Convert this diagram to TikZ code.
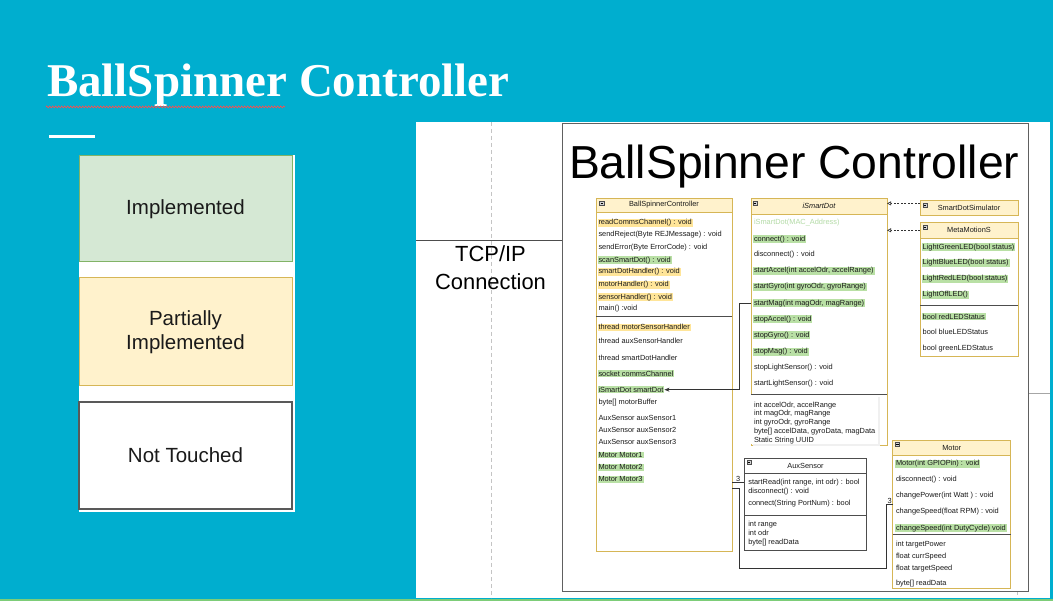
\documentclass[tikz,border=0pt]{standalone}
\usepackage{fontspec}
\setmainfont{Liberation Sans}
\newfontfamily\serifbold{Liberation Serif}
\usetikzlibrary{arrows.meta,decorations.pathmorphing}
\definecolor{teal0}{RGB}{0,174,207}
\definecolor{hdrfill}{HTML}{FFF2CC}
\definecolor{hdrdraw}{HTML}{D6B656}
\definecolor{hly}{HTML}{FFE599}
\definecolor{hlg}{HTML}{B9E0A5}
\definecolor{gfill}{HTML}{D5E8D4}
\definecolor{gdraw}{HTML}{82B366}
\definecolor{txt}{HTML}{1A1A1A}
\definecolor{pale}{HTML}{B3DBA6}
\definecolor{sepc}{HTML}{4D4D4D}
\definecolor{connc}{HTML}{333333}
\definecolor{dashc}{HTML}{C4C4C4}
\definecolor{bottomg}{RGB}{125,205,120}
\newcommand\myuml{\fontsize{7.4}{8.7}\selectfont}
\begin{document}
\begin{tikzpicture}[x=1pt,y=-1pt,
  every node/.style={inner sep=0pt, outer sep=0pt},
  hdr/.style={draw=hdrdraw, fill=hdrfill, line width=0.8pt, anchor=north west, font=\myuml, text=txt},
  body/.style={draw=hdrdraw, fill=white, line width=0.8pt, anchor=north west},
  hdrd/.style={draw=sepc, fill=white, line width=0.8pt, anchor=north west, font=\myuml, text=txt},
  bodyd/.style={draw=sepc, fill=white, line width=0.8pt, anchor=north west},
  row/.style={anchor=west, inner xsep=1pt, inner ysep=0.6pt, font=\myuml, text=txt},
  hy/.style={row, fill=hly},
  hg/.style={row, fill=hlg},
  sepline/.style={draw=sepc, line width=0.8pt},
  conn/.style={draw=connc, line width=0.7pt},
  real/.style={draw=connc, line width=0.6pt, dash pattern=on 2pt off 1.5pt, -{Triangle[open, length=4pt, width=4pt]}},
  legendbox/.style={minimum width=213, minimum height=106, line width=1pt, font=\fontsize{20.5}{24}\selectfont, text=txt, align=center},
  mini/.pic={\draw[fill=gray!35, draw=gray!60!black, line width=0.3pt] (0,0) rectangle (4.5,4); \draw[line width=0.4pt] (1,2) -- (3.5,2);}
]
\useasboundingbox (0,0) rectangle (1053,601);
\fill[teal0] (0,0) rectangle (1053,601);
\fill[bottomg] (0,599) rectangle (1053,601);

% slide title
\node[anchor=base west, text=white, font=\serifbold\bfseries\fontsize{47}{50}\selectfont] (title) at (47,97) {BallSpinner Controller};
\draw[red!70!white, line width=0.6pt, decorate, decoration={zigzag, amplitude=1pt, segment length=3pt}] (46,107) -- (285,107);
\draw[white, line width=3pt] (49,137) -- (95,137);

% legend
\fill[white] (79,155) rectangle (295,512);
\node[legendbox, fill=gfill, draw=gdraw] (limp) at (185.5,209) {Implemented};
\node[legendbox, fill=hdrfill, draw=hdrdraw, minimum height=108] (lpart) at (185.5,332) {Partially\\Implemented};
\node[legendbox, fill=white, draw=gray!70!black, line width=1.4pt, minimum height=107] (lnot) at (185.5,455.5) {Not Touched};

% right panel
\fill[white] (416,122) rectangle (1050,598);
\draw[dashc, line width=0.7pt, dash pattern=on 4pt off 3pt] (491,122) -- (491,598);
\draw[dashc, line width=0.7pt, dash pattern=on 4pt off 3pt] (1017,591) -- (1017,598);
\draw[sepc, line width=0.9pt] (416,240.5) -- (562,240.5);
\draw[gray!70, line width=0.9pt] (1028,393.5) -- (1050,393.5);
\node[font=\fontsize{21.9}{28.3}\selectfont, align=center, text=black] (tcp) at (490.5,268) {TCP/IP\\Connection};
\node[draw=gray!75!black, fill=white, line width=0.9pt, minimum width=466, minimum height=468, anchor=north west] (page) at (562,123) {};
\node[anchor=base west, font=\fontsize{46.3}{50}\selectfont, text=black] (bigtitle) at (569,178.5) {BallSpinner Controller};

% BallSpinnerController
\node[hdr, minimum width=136, minimum height=14] (bsc-h) at (596,198) {BallSpinnerController};
\node[body, minimum width=136, minimum height=339] (bsc) at (596,212) {};
\pic at (599.5,201) {mini};
\draw[sepline] (bsc.west |- 0,316) -- (bsc.east |- 0,316);
\node[hy] (bsc-m1) at (597.5,222.7) {readCommsChannel() : void};
\node[row] (bsc-m2) at (597.5,234.7) {sendReject(Byte REJMessage) : void};
\node[row] (bsc-m3) at (597.5,247.7) {sendError(Byte ErrorCode) : void};
\node[hg] (bsc-m4) at (597.5,260.3) {scanSmartDot() : void};
\node[hy] (bsc-m5) at (597.5,272) {smartDotHandler() : void};
\node[hy] (bsc-m6) at (597.5,285) {motorHandler() : void};
\node[hy] (bsc-m7) at (597.5,297.3) {sensorHandler() : void};
\node[row] (bsc-m8) at (597.5,309) {main() :void};
\node[hy] (bsc-a1) at (597.5,327.3) {thread motorSensorHandler};
\node[row] (bsc-a2) at (597.5,341) {thread auxSensorHandler};
\node[row] (bsc-a3) at (597.5,357.7) {thread smartDotHandler};
\node[hg] (bsc-a4) at (597.5,373.7) {socket commsChannel};
\node[hg] (bsc-a5) at (597.5,389.7) {iSmartDot smartDot};
\node[row] (bsc-a6) at (597.5,402.3) {byte[] motorBuffer};
\node[row] (bsc-a7) at (597.5,418.3) {AuxSensor auxSensor1};
\node[row] (bsc-a8) at (597.5,430.3) {AuxSensor auxSensor2};
\node[row] (bsc-a9) at (597.5,442.3) {AuxSensor auxSensor3};
\node[hg] (bsc-a10) at (597.5,455) {Motor Motor1};
\node[hg] (bsc-a11) at (597.5,467.3) {Motor Motor2};
\node[hg] (bsc-a12) at (597.5,479.3) {Motor Motor3};

% iSmartDot
\node[hdr, minimum width=136, minimum height=16, font=\myuml\itshape] (isd-h) at (751,198) {iSmartDot};
\node[body, minimum width=136, minimum height=231] (isd) at (751,214) {};
\pic at (752.7,201.5) {mini};
\draw[sepline] (isd.west |- 0,394) -- (isd.east |- 0,394);
\node[row, text=pale] (isd-m0) at (753,223) {iSmartDot(MAC\_Address)};
\node[hg] (isd-m1) at (753,239.3) {connect() : void};
\node[row] (isd-m2) at (753,255) {disconnect() : void};
\node[hg] (isd-m3) at (753,271) {startAccel(int accelOdr, accelRange)};
\node[hg] (isd-m4) at (753,287) {startGyro(int gyroOdr, gyroRange)};
\node[hg] (isd-m5) at (753,303.3) {startMag(int magOdr, magRange)};
\node[hg] (isd-m6) at (753,319.3) {stopAccel() : void};
\node[hg] (isd-m7) at (753,335.3) {stopGyro() : void};
\node[hg] (isd-m8) at (753,351.7) {stopMag() : void};
\node[row] (isd-m9) at (753,367.7) {stopLightSensor() : void};
\node[row] (isd-m10) at (753,383.3) {startLightSensor() : void};
\fill[gray!12] (753,397) rectangle (880,446);
\fill[white] (751,395) rectangle (878,444);
\node[row, align=left] (isd-attr) at (753,422.7) {int accelOdr, accelRange\\int magOdr, magRange\\int gyroOdr, gyroRange\\byte[] accelData, gyroData, magData\\Static String UUID};

% SmartDotSimulator
\node[hdr, minimum width=98, minimum height=15] (sds) at (920,200.7) {SmartDotSimulator};
\pic at (922.7,203) {mini};

% MetaMotionS
\node[hdr, minimum width=98, minimum height=16] (mms-h) at (920,222.3) {MetaMotionS};
\node[body, minimum width=98, minimum height=117.7] (mms) at (920,238.3) {};
\pic at (922.7,225) {mini};
\draw[sepline] (mms.west |- 0,305.7) -- (mms.east |- 0,305.7);
\node[hg] (mms-m1) at (921.7,247.3) {LightGreenLED(bool status)};
\node[hg] (mms-m2) at (921.7,262.7) {LightBlueLED(bool status)};
\node[hg] (mms-m3) at (921.7,279) {LightRedLED(bool status)};
\node[hg] (mms-m4) at (921.7,295) {LightOffLED()};
\node[hg] (mms-a1) at (921.7,316.7) {bool redLEDStatus};
\node[row] (mms-a2) at (921.7,332.3) {bool blueLEDStatus};
\node[row] (mms-a3) at (921.7,348.3) {bool greenLEDStatus};

% AuxSensor
\node[hdrd, minimum width=122.4, minimum height=15] (aux-h) at (744.3,458.3) {AuxSensor};
\node[bodyd, minimum width=122.4, minimum height=76.7] (aux) at (744.3,473.3) {};
\pic at (746.7,460.5) {mini};
\draw[sepline] (aux.west |- 0,515) -- (aux.east |- 0,515);
\node[row] (aux-m1) at (747.3,482.3) {startRead(int range, int odr) : bool};
\node[row] (aux-m2) at (747.3,492) {disconnect() : void};
\node[row] (aux-m3) at (747.3,504) {connect(String PortNum) : bool};
\node[row] (aux-a1) at (747.3,525) {int range};
\node[row] (aux-a2) at (747.3,533.3) {int odr};
\node[row] (aux-a3) at (747.3,542.3) {byte[] readData};

% Motor
\node[hdr, minimum width=118, minimum height=15] (mot-h) at (892.7,440) {Motor};
\node[body, minimum width=118, minimum height=133.3] (mot) at (892.7,455) {};
\pic at (895,442.3) {mini};
\draw[sepline] (mot.west |- 0,534) -- (mot.east |- 0,534);
\node[hg] (mot-m1) at (895,464) {Motor(int GPIOPin) : void};
\node[row] (mot-m2) at (895,480) {disconnect() : void};
\node[row] (mot-m3) at (895,496) {changePower(int Watt ) : void};
\node[row] (mot-m4) at (895,512) {changeSpeed(float RPM) : void};
\node[hg] (mot-m5) at (895,528.3) {changeSpeed(int DutyCycle) void};
\node[row] (mot-a1) at (895,544.3) {int targetPower};
\node[row] (mot-a2) at (895,557) {float currSpeed};
\node[row] (mot-a3) at (895,569) {float targetSpeed};
\node[row] (mot-a4) at (895,584) {byte[] readData};

% connectors
\draw[conn, -{Stealth[length=5pt, width=4pt]}] (isd.west |- isd-m5) -- ++(-12,0) |- (bsc-a5.east);
\coordinate (r1) at ([yshift=-2.7pt]sds.north west);
\draw[real] (r1) -- (r1 -| isd.east);
\draw[real] (mms-h.west) -- (mms-h.west -| isd.east);
\draw[conn] (bsc.east |- aux-m1) -- (aux.west |- aux-m1) node[midway, above=0.6pt, font=\myuml, text=txt] (lbl1) {3};
\coordinate (ya) at (0,488.3);
\coordinate (j1) at (739.3,568.3);
\coordinate (j2) at (886.7,568.3);
\coordinate (yb) at (0,504);
\draw[conn] (bsc.east |- ya) -| (j1) -- (j2) -- (j2 |- yb) -- (mot.west |- yb) node[midway, above=0.6pt, font=\myuml, text=txt] (lbl2) {3};
\end{tikzpicture}
\end{document}
